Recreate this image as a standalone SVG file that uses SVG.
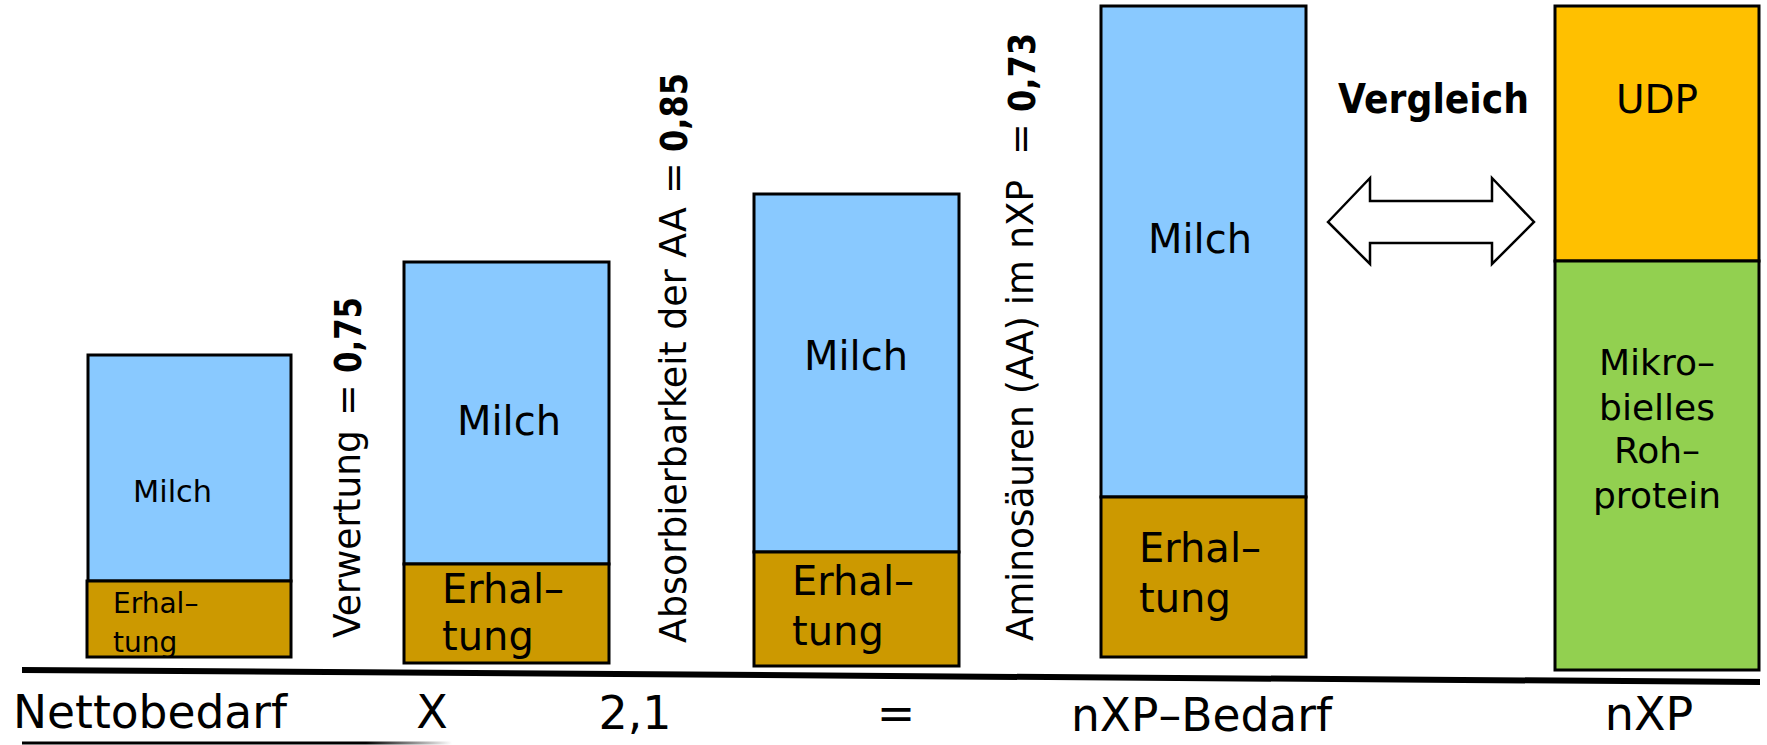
<svg xmlns="http://www.w3.org/2000/svg" width="1767" height="745" viewBox="0 0 1767 745">
  <style>
    .milch { fill: #89C9FF; stroke: #000; stroke-width: 3; }
    .erh { fill: #CC9900; stroke: #000; stroke-width: 3; }
    .udp { fill: #FFC000; stroke: #000; stroke-width: 3; }
    .mik { fill: #92D050; stroke: #000; stroke-width: 3; }
    text { font-family: "DejaVu Sans", "Liberation Sans", sans-serif; fill: #000; }
    .big { font-size: 41px; }
    .erht { font-size: 40px; }
    .vert { font-size: 38px; }
    .num { font-size: 38px; font-weight: bold; }
    .foot { font-size: 46px; }
  </style>
  <defs>
    <linearGradient id="fade" x1="22" y1="0" x2="452" y2="0" gradientUnits="userSpaceOnUse">
      <stop offset="0" stop-color="#000"/>
      <stop offset="0.8" stop-color="#000"/>
      <stop offset="1" stop-color="#fff"/>
    </linearGradient>
  </defs>
  <rect width="1767" height="745" fill="#fff"/>

  <!-- Net requirement bar -->
  <g id="bar-netto">
    <rect class="milch" x="88" y="355" width="203" height="226"/>
    <rect class="erh" x="87" y="581" width="204" height="76"/>
    <text x="133" y="502" font-size="30" textLength="79" lengthAdjust="spacingAndGlyphs">Milch</text>
    <text x="113" y="613" font-size="28">Erhal–</text>
    <text x="113" y="652" font-size="28">tung</text>
  </g>

  <!-- Factor: utilisation -->
  <g id="label-verwertung">
    <text class="vert" transform="translate(360,638) rotate(-90)" textLength="208" lengthAdjust="spacingAndGlyphs">Verwertung</text>
    <text class="vert" transform="translate(360,400) rotate(-90)" text-anchor="middle">=</text>
    <text class="num" transform="translate(361,373) rotate(-90)" textLength="76" lengthAdjust="spacingAndGlyphs">0,75</text>
  </g>

  <g id="bar-verwertung">
    <rect class="milch" x="404" y="262" width="205" height="302"/>
    <rect class="erh" x="404" y="564" width="205" height="99"/>
    <text class="big" x="457" y="435" textLength="104" lengthAdjust="spacingAndGlyphs">Milch</text>
    <text class="erht" x="442" y="603">Erhal–</text>
    <text class="erht" x="442" y="650">tung</text>
  </g>

  <!-- Factor: absorbability -->
  <g id="label-absorbierbarkeit">
    <text class="vert" transform="translate(686,643) rotate(-90)" textLength="436" lengthAdjust="spacingAndGlyphs">Absorbierbarkeit der AA</text>
    <text class="vert" transform="translate(686,178) rotate(-90)" text-anchor="middle">=</text>
    <text class="num" transform="translate(687,152) rotate(-90)" textLength="79" lengthAdjust="spacingAndGlyphs">0,85</text>
  </g>

  <g id="bar-absorbierbarkeit">
    <rect class="milch" x="754" y="194" width="205" height="358"/>
    <rect class="erh" x="754" y="552" width="205" height="114"/>
    <text class="big" x="804" y="370" textLength="104" lengthAdjust="spacingAndGlyphs">Milch</text>
    <text class="erht" x="792" y="595">Erhal–</text>
    <text class="erht" x="792" y="645">tung</text>
  </g>

  <!-- Factor: amino acids in nXP -->
  <g id="label-aminosaeuren">
    <text class="vert" transform="translate(1033,641) rotate(-90)" textLength="461" lengthAdjust="spacingAndGlyphs">Aminosäuren (AA) im nXP</text>
    <text class="vert" transform="translate(1033,139) rotate(-90)" text-anchor="middle">=</text>
    <text class="num" transform="translate(1035,112) rotate(-90)" textLength="79" lengthAdjust="spacingAndGlyphs">0,73</text>
  </g>

  <g id="bar-nxp-bedarf">
    <rect class="milch" x="1101" y="6" width="205" height="491"/>
    <rect class="erh" x="1101" y="497" width="205" height="160"/>
    <text class="big" x="1148" y="253" textLength="104" lengthAdjust="spacingAndGlyphs">Milch</text>
    <text class="erht" x="1139" y="562">Erhal–</text>
    <text class="erht" x="1139" y="612">tung</text>
  </g>

  <g id="label-vergleich">
    <text x="1338" y="113" font-size="40" font-weight="bold" textLength="191" lengthAdjust="spacingAndGlyphs">Vergleich</text>
  </g>

  <g id="bar-nxp">
    <rect class="udp" x="1555" y="6" width="204" height="255"/>
    <rect class="mik" x="1555" y="261" width="204" height="409"/>
    <text x="1657" y="113" font-size="39" text-anchor="middle">UDP</text>
    <text x="1657" y="375" font-size="36" text-anchor="middle">Mikro–</text>
    <text x="1657" y="420" font-size="36" text-anchor="middle">bielles</text>
    <text x="1657" y="463" font-size="36" text-anchor="middle">Roh–</text>
    <text x="1657" y="508" font-size="36" text-anchor="middle">protein</text>
  </g>

  <!-- Equation line under the bars -->
  <g id="equation">
    <text class="foot" x="13" y="728" textLength="274" lengthAdjust="spacingAndGlyphs">Nettobedarf</text>
    <text class="foot" x="432" y="728" text-anchor="middle">X</text>
    <text class="foot" x="635" y="729" text-anchor="middle">2,1</text>
    <text class="foot" x="896" y="729" text-anchor="middle">=</text>
    <text class="foot" x="1071" y="731" textLength="261" lengthAdjust="spacingAndGlyphs">nXP–Bedarf</text>
    <text class="foot" x="1649" y="730" text-anchor="middle">nXP</text>
  </g>

  <g id="connectors">
    <line x1="22" y1="670" x2="1760" y2="682" stroke="#000" stroke-width="6"/>
    <line x1="22" y1="743" x2="452" y2="743" stroke="url(#fade)" stroke-width="3"/>
    <polygon points="1328,222 1370,178 1370,201 1492,201 1492,178 1534,222 1492,264 1492,243 1370,243 1370,264"
             fill="#fff" stroke="#000" stroke-width="2.5" stroke-linejoin="miter"/>
  </g>
</svg>
